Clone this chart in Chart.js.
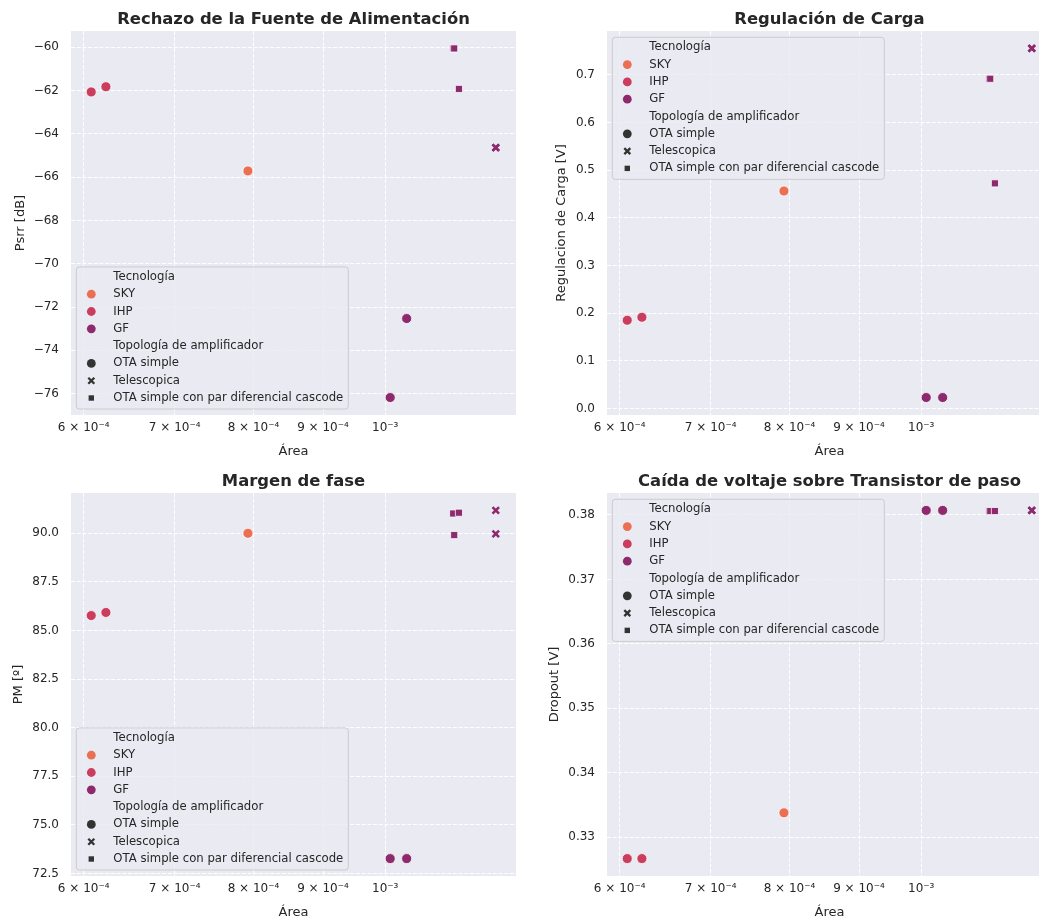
<!DOCTYPE html>
<html>
<head>
<meta charset="utf-8">
<script src="https://cdn.jsdelivr.net/npm/chart.js@4.4.1/dist/chart.umd.min.js"></script>
<style>
  html, body { margin: 0; padding: 0; background: #ffffff; width: 1039px; height: 921px; overflow: hidden; }
  .panel { position: absolute; }
</style>
</head>
<body>
<div class="panel" style="left:0px;top:0px;width:530px;height:460px"><canvas id="psrr" width="530" height="460"></canvas></div>
<div class="panel" style="left:540px;top:0px;width:520px;height:460px"><canvas id="regulacion" width="520" height="460"></canvas></div>
<div class="panel" style="left:0px;top:462px;width:530px;height:459px"><canvas id="fase" width="530" height="459"></canvas></div>
<div class="panel" style="left:540px;top:462px;width:520px;height:459px"><canvas id="dropout" width="520" height="459"></canvas></div>
<script>
// Categories and their styles
const tecnologias = ['SKY', 'IHP', 'GF'];
const coloresTec = ['#eb6f52', '#cb3d5e', '#8c2a6d'];
const topologias = ['OTA simple', 'Telescopica', 'OTA simple con par diferencial cascode'];
const estilosTopo = ['circle', 'crossRot', 'rect'];

// One entry per design
const tecnologia = ['IHP', 'IHP', 'SKY', 'GF', 'GF', 'GF', 'GF', 'GF', 'GF', 'GF'];
const topologia = [
  'OTA simple', 'OTA simple', 'OTA simple', 'OTA simple', 'OTA simple',
  'Telescopica', 'Telescopica',
  'OTA simple con par diferencial cascode', 'OTA simple con par diferencial cascode', 'OTA simple con par diferencial cascode'
];
const area = [6.077e-4, 6.23e-4, 7.925e-4, 1.0085e-3, 1.037e-3, 1.206e-3, 1.206e-3, 1.122e-3, 1.124e-3, 1.133e-3];
const psrr = [-62.06, -61.82, -65.71, -76.18, -72.53, -64.63, -64.63, -60.05, -60.05, -61.92];
const regulacion = [0.1852, 0.1915, 0.4563, 0.0231, 0.0231, 0.7554, 0.7554, 0.6918, 0.6918, 0.4724];
const margenFase = [85.77, 85.93, 90.0, 73.27, 73.27, 91.18, 89.97, 91.02, 89.91, 91.06];
const dropout = [0.3267, 0.3267, 0.3338, 0.3807, 0.3807, 0.3807, 0.3807, 0.3806, 0.3806, 0.3806];

// Tick values and labels
const areaTicks = [6e-4, 7e-4, 8e-4, 9e-4, 1e-3];
const areaTickLabels = ['6 × 10⁻⁴', '7 × 10⁻⁴', '8 × 10⁻⁴', '9 × 10⁻⁴', '10⁻³'];
const psrrTicks = [-76, -74, -72, -70, -68, -66, -64, -62, -60];
const regulacionTicks = [0.0, 0.1, 0.2, 0.3, 0.4, 0.5, 0.6, 0.7];
const faseTicks = [72.5, 75.0, 77.5, 80.0, 82.5, 85.0, 87.5, 90.0];
const dropoutTicks = [0.33, 0.34, 0.35, 0.36, 0.37, 0.38];

const TEXTO = '#262626';
Chart.defaults.font.family = "'DejaVu Sans', sans-serif";
Chart.defaults.color = TEXTO;

// 5 % autoscale margins
function rango(vals) {
  const lo = Math.min(...vals), hi = Math.max(...vals), m = (hi - lo) * 0.05;
  return [lo - m, hi + m];
}
function rangoLog(vals) {
  const r = rango(vals.map(v => Math.log10(v)));
  return [Math.pow(10, r[0]), Math.pow(10, r[1])];
}

// Axes background
const fondoEjes = {
  id: 'fondoEjes',
  beforeDraw(chart) {
    const { ctx, chartArea: a } = chart;
    ctx.save();
    ctx.fillStyle = '#eaeaf2';
    ctx.fillRect(a.left, a.top, a.right - a.left, a.bottom - a.top);
    ctx.restore();
  }
};

function dibujarMarcador(ctx, tipo, x, y, color) {
  ctx.save();
  if (tipo === 'circle') {
    ctx.fillStyle = color;
    ctx.beginPath(); ctx.arc(x, y, 4.4, 0, Math.PI * 2); ctx.fill();
  } else if (tipo === 'crossRot') {
    ctx.strokeStyle = color; ctx.lineWidth = 2.3;
    const d = 3.0;
    ctx.beginPath();
    ctx.moveTo(x - d, y - d); ctx.lineTo(x + d, y + d);
    ctx.moveTo(x - d, y + d); ctx.lineTo(x + d, y - d);
    ctx.stroke();
  } else {
    ctx.fillStyle = color;
    ctx.fillRect(x - 2.7, y - 2.7, 5.4, 5.4);
  }
  ctx.restore();
}

// Two-section legend: hue (Tecnología) and marker style (Topología)
const leyenda = {
  id: 'leyenda',
  afterDraw(chart, args, opts) {
    const { ctx, chartArea: a } = chart;
    const filas = [{ texto: 'Tecnología' }]
      .concat(tecnologias.map((t, i) => ({ texto: t, tipo: 'circle', color: coloresTec[i] })))
      .concat([{ texto: 'Topología de amplificador' }])
      .concat(topologias.map((t, i) => ({ texto: t, tipo: estilosTopo[i], color: '#333333' })));
    ctx.save();
    ctx.font = '11.7px "DejaVu Sans"';
    const anchoTexto = Math.max(...filas.map(f => ctx.measureText(f.texto).width));
    const paso = 17.3;
    const w = 37 + anchoTexto + 5;
    const h = 10 + (filas.length - 1) * paso + 11;
    const x0 = a.left + 5.3;
    const y0 = opts.esquina === 'arriba' ? a.top + 6.3 : a.bottom - 6 - h;
    const r = 3;
    ctx.beginPath();
    ctx.moveTo(x0 + r, y0);
    ctx.lineTo(x0 + w - r, y0); ctx.arcTo(x0 + w, y0, x0 + w, y0 + r, r);
    ctx.lineTo(x0 + w, y0 + h - r); ctx.arcTo(x0 + w, y0 + h, x0 + w - r, y0 + h, r);
    ctx.lineTo(x0 + r, y0 + h); ctx.arcTo(x0, y0 + h, x0, y0 + h - r, r);
    ctx.lineTo(x0, y0 + r); ctx.arcTo(x0, y0, x0 + r, y0, r);
    ctx.closePath();
    ctx.fillStyle = 'rgba(234,234,242,0.8)';
    ctx.fill();
    ctx.strokeStyle = '#cccccc';
    ctx.lineWidth = 1;
    ctx.stroke();
    filas.forEach((f, i) => {
      const y = y0 + 10 + i * paso;
      if (f.tipo) dibujarMarcador(ctx, f.tipo, x0 + 15, y, f.color);
      ctx.fillStyle = TEXTO;
      ctx.textBaseline = 'middle';
      ctx.textAlign = 'left';
      ctx.fillText(f.texto, x0 + 37, y);
    });
    ctx.restore();
  }
};

function conjuntos(valores) {
  const sets = [];
  tecnologias.forEach((tec, ti) => {
    topologias.forEach((topo, pi) => {
      const pts = [];
      area.forEach((a, i) => {
        if (tecnologia[i] === tec && topologia[i] === topo) pts.push({ x: a, y: valores[i] });
      });
      if (!pts.length) return;
      const estilo = estilosTopo[pi];
      const cruz = estilo === 'crossRot';
      sets.push({
        label: tec + ' / ' + topo,
        data: pts,
        showLine: false,
        pointStyle: estilo,
        pointRadius: cruz ? 4.6 : (estilo === 'rect' ? 5.0 : 5.0),
        pointBackgroundColor: coloresTec[ti],
        pointBorderColor: cruz ? coloresTec[ti] : '#ffffff',
        pointBorderWidth: cruz ? 2.6 : 0.75
      });
    });
  });
  return sets;
}

function grafico(id, cfg) {
  const xr = rangoLog(area);
  const yr = rango(cfg.valores);
  const gridOpts = { color: '#ffffff', lineWidth: 1, drawTicks: false };
  return new Chart(document.getElementById(id), {
    type: 'scatter',
    data: { datasets: conjuntos(cfg.valores) },
    options: {
      responsive: false,
      devicePixelRatio: 1,
      animation: false,
      events: [],
      layout: { padding: { left: 0, right: cfg.padDerecho, top: 0, bottom: 0 } },
      plugins: {
        legend: { display: false },
        tooltip: { enabled: false },
        title: {
          display: true, text: cfg.titulo, fullSize: false,
          font: { size: 16.4, weight: 'bold' }, color: TEXTO,
          padding: { top: 9.7, bottom: 1.6 }
        },
        leyenda: { esquina: cfg.esquina }
      },
      scales: {
        x: {
          type: 'logarithmic', min: xr[0], max: xr[1],
          afterBuildTicks: s => { s.ticks = areaTicks.map(v => ({ value: v })); },
          afterFit: s => { s.height = 45; },
          ticks: {
            autoSkip: false, maxRotation: 0, minRotation: 0, padding: 6,
            font: { size: 12 }, color: TEXTO,
            callback: (v, i) => areaTickLabels[i]
          },
          grid: gridOpts,
          border: { display: false, dash: [4, 1.7] },
          title: { display: true, text: 'Área', font: { size: 13 }, color: TEXTO, padding: { top: 0, bottom: 0.7 } }
        },
        y: {
          type: 'linear', min: yr[0], max: yr[1],
          afterBuildTicks: s => { s.ticks = cfg.ticks.map(v => ({ value: v })); },
          afterFit: s => { s.width = cfg.anchoY; },
          ticks: {
            padding: 12, font: { size: 12 }, color: TEXTO,
            callback: (v, i) => cfg.etiquetas[i]
          },
          grid: gridOpts,
          border: { display: false, dash: [4, 1.7] },
          title: { display: true, text: cfg.tituloY, font: { size: 13 }, color: TEXTO, padding: { top: cfg.padTituloY, bottom: 0 } }
        }
      }
    },
    plugins: [fondoEjes, leyenda]
  });
}

grafico('psrr', {
  titulo: 'Rechazo de la Fuente de Alimentación', tituloY: 'Psrr [dB]',
  valores: psrr, ticks: psrrTicks, etiquetas: psrrTicks.map(v => String(v).replace('-', '\u2212')),
  anchoY: 71, padTituloY: 13.2, padDerecho: 14, esquina: 'abajo'
});
grafico('regulacion', {
  titulo: 'Regulación de Carga', tituloY: 'Regulacion de Carga [V]',
  valores: regulacion, ticks: regulacionTicks, etiquetas: regulacionTicks.map(v => v.toFixed(1)),
  anchoY: 67, padTituloY: 14.2, padDerecho: 8, esquina: 'arriba'
});
grafico('fase', {
  titulo: 'Margen de fase', tituloY: 'PM [º]',
  valores: margenFase, ticks: faseTicks, etiquetas: faseTicks.map(v => v.toFixed(1)),
  anchoY: 71, padTituloY: 10.7, padDerecho: 14, esquina: 'abajo'
});
grafico('dropout', {
  titulo: 'Caída de voltaje sobre Transistor de paso', tituloY: 'Dropout [V]',
  valores: dropout, ticks: dropoutTicks, etiquetas: dropoutTicks.map(v => v.toFixed(2)),
  anchoY: 67, padTituloY: 7.2, padDerecho: 8, esquina: 'arriba'
});
</script>
</body>
</html>
